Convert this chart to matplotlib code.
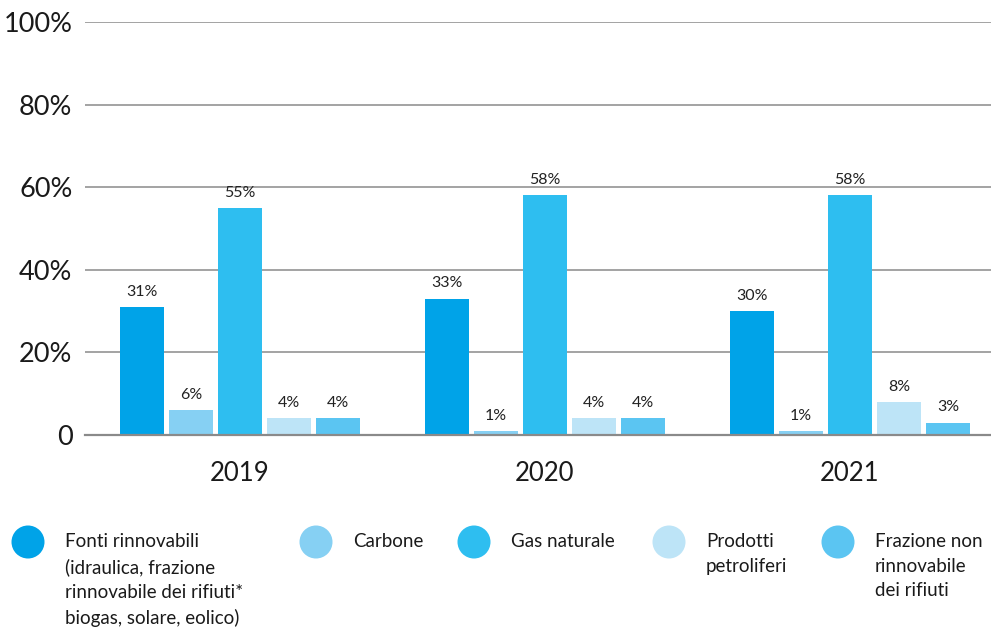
import matplotlib
matplotlib.use("Agg")
import matplotlib.pyplot as plt
from matplotlib.patches import Circle
import numpy as np

plt.rcParams['font.family'] = ['Lato', 'DejaVu Sans']

years = ["2019", "2020", "2021"]
series = [
    "Fonti rinnovabili\n(idraulica, frazione\nrinnovabile dei rifiuti*\nbiogas, solare, eolico)",
    "Carbone",
    "Gas naturale",
    "Prodotti\npetroliferi",
    "Frazione non\nrinnovabile\ndei rifiuti",
]
fonti_rinnovabili = [31, 33, 30]
carbone = [6, 1, 1]
gas_naturale = [55, 58, 58]
prodotti_petroliferi = [4, 4, 8]
frazione_non_rinnovabile = [4, 4, 3]
values = [fonti_rinnovabili, carbone, gas_naturale, prodotti_petroliferi, frazione_non_rinnovabile]
colors = ["#00A3E8", "#86D0F3", "#2EBEF0", "#BDE4F7", "#5BC5F2"]
yticks = [0, 20, 40, 60, 80, 100]
ytick_labels = ["0", "20%", "40%", "60%", "80%", "100%"]

W, H = 991, 632
fig = plt.figure(figsize=(W / 100, H / 100), dpi=100)

# plot area in pixel terms
left_px, right_px, top_px, bottom_px = 85, 991, 22, 435
ax = fig.add_axes([left_px / W, (H - bottom_px) / H,
                   (right_px - left_px) / W, (bottom_px - top_px) / H])

group_px = 305.0
step = 49 / group_px
width = 44 / group_px
x = np.arange(len(years))
c0 = 240.0
ax.set_xlim((left_px - c0) / group_px, (right_px - c0) / group_px)
ax.set_ylim(0, 100)

for i, (vals, col) in enumerate(zip(values, colors)):
    pos = x + (i - 2) * step
    bars = ax.bar(pos, vals, width=width, color=col, zorder=3)
    for b, v in zip(bars, vals):
        ax.annotate(f"{v}%", (b.get_x() + b.get_width() / 2, v),
                    xytext=(0, 6), textcoords="offset points",
                    ha="center", va="bottom", fontsize=11.5, color="#222222")

ax.set_yticks(yticks)
ax.set_yticklabels(ytick_labels, fontsize=19.5, color="#1a1a1a")
ax.yaxis.grid(True, color="#8a8a8a", linewidth=1.1, zorder=0)
ax.set_axisbelow(True)
ax.tick_params(axis="y", length=0, pad=9)
ax.set_xticks(x)
ax.set_xticklabels(years, fontsize=18.5, color="#1a1a1a")
ax.tick_params(axis="x", length=0, pad=19)
for s in ["top", "right", "left"]:
    ax.spines[s].set_visible(False)
ax.spines["bottom"].set_color("#8a8a8a")
ax.spines["bottom"].set_linewidth(1.6)
ax.spines["bottom"].set_zorder(4)

# legend drawn in pixel coordinates
lg = fig.add_axes([0, 0, 1, 1])
lg.set_xlim(0, W)
lg.set_ylim(H, 0)
lg.axis("off")
lg.patch.set_alpha(0)
circle_x = [28, 316, 474, 669, 838]
for cx, col, name in zip(circle_x, colors, series):
    lg.add_patch(Circle((cx, 542), 16.5, color=col, lw=0))
    lg.text(cx + 37, 533, name, fontsize=13.5, color="#1a1a1a",
            va="top", ha="left", linespacing=1.55)

fig.savefig("out.png", dpi=100)
